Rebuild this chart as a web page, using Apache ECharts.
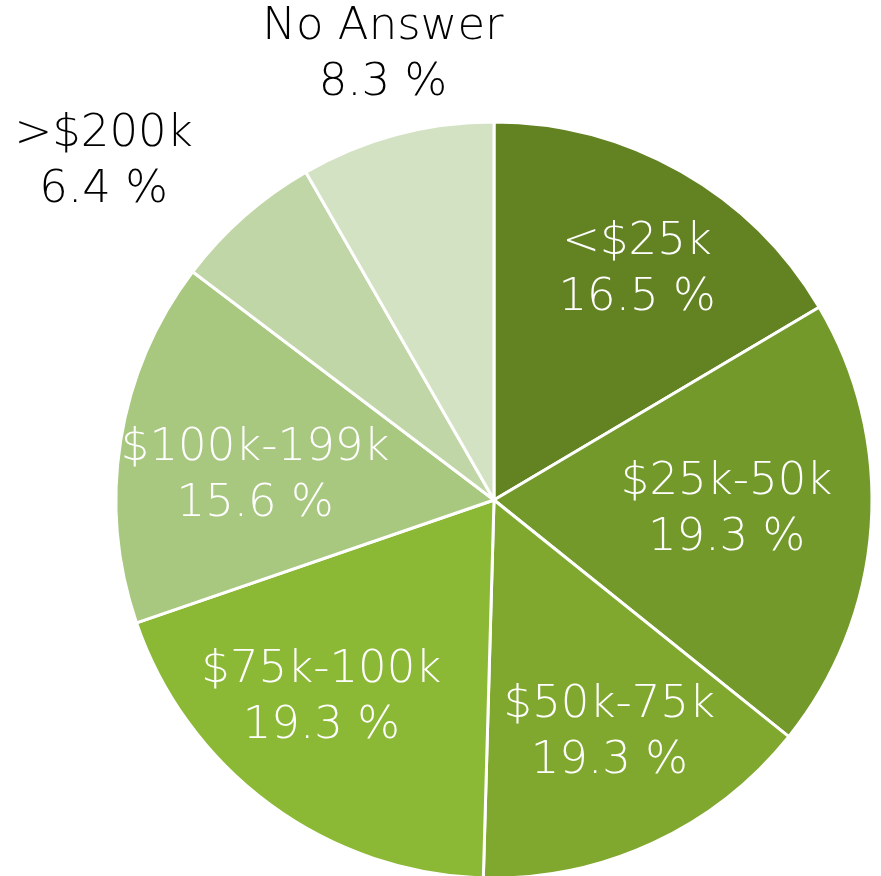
<!DOCTYPE html>
<html>
<head>
<meta charset="utf-8">
<script src="https://cdn.jsdelivr.net/npm/echarts@6/dist/echarts.min.js"></script>
<style>
html,body{margin:0;padding:0;background:#fff;}
#chart{width:881px;height:876px;}
</style>
</head>
<body>
<div id="chart"></div>
<script>
// Categories (clockwise from 12 o'clock)
const categories = ['<$25k', '$25k-50k', '$50k-75k', '$75k-100k', '$100k-199k', '>$200k', 'No Answer'];
// Slice sizes (percent)
const sliceValues = [16.5, 19.3, 14.7, 19.3, 15.6, 6.4, 8.3];
// Percent text as printed on the chart
const printedPercents = ['16.5', '19.3', '19.3', '19.3', '15.6', '6.4', '8.3'];

// Styling
const colors = ['#638323', '#72992a', '#80a82f', '#8bb835', '#a8c77f', '#c0d6a6', '#d4e2c4'];
const labelColors = ['#fff', '#fff', '#fff', '#fff', '#fff', '#000', '#000'];
// label placement: [fraction of radius, angle tweak in degrees]
const labelPlace = [[0.717, 2.2], [0.616, -1.5], [0.688, -1.5], [0.696, 4.7], [0.635, -3.4], [1.365, -7.8], [1.212, 0.9]];

const CX = 494, CY = 500, R = 378;
const total = sliceValues.reduce((a, b) => a + b, 0);
const midAngles = [];
let cum = 0;
sliceValues.forEach(v => { midAngles.push((cum + v / 2) / total * 360); cum += v; });

const chart = echarts.init(document.getElementById('chart'), null, {renderer: 'canvas'});
chart.setOption({
  animation: false,
  series: [{
    type: 'pie',
    center: [CX, CY],
    radius: [0, R],
    startAngle: 90,
    clockwise: true,
    avoidLabelOverlap: false,
    itemStyle: {borderColor: '#fff', borderWidth: 3},
    label: {
      show: true,
      position: 'inside',
      fontFamily: 'DejaVu Sans',
      fontWeight: 200,
      fontSize: 45,
      lineHeight: 56,
      align: 'center',
      verticalAlign: 'middle',
      formatter: p => categories[p.dataIndex] + '\n' + printedPercents[p.dataIndex] + ' %'
    },
    labelLine: {show: false},
    emphasis: {disabled: true},
    labelLayout: function (p) {
      const i = p.dataIndex;
      const a = (midAngles[i] + labelPlace[i][1]) * Math.PI / 180;
      const r = R * labelPlace[i][0];
      return {x: CX + r * Math.sin(a), y: CY - r * Math.cos(a), align: 'center', verticalAlign: 'middle'};
    },
    data: categories.map((c, i) => ({
      name: c,
      value: sliceValues[i],
      itemStyle: {color: colors[i]},
      label: {color: labelColors[i]}
    }))
  }]
});
</script>
</body>
</html>
